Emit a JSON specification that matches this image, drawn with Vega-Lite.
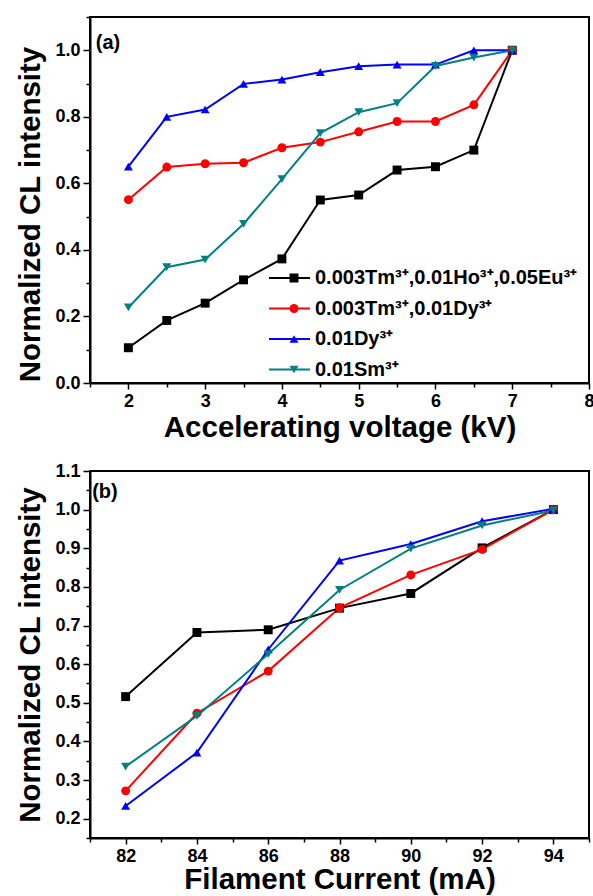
{
  "$schema": "https://vega.github.io/schema/vega-lite/v6.json",
  "autosize": {"type": "pad"},
  "padding": {"left": 14, "top": 15, "right": 5, "bottom": 0},
  "bounds": "flush",
  "spacing": 88,
  "background": "white",
  "config": {
    "font": "Liberation Sans",
    "view": {"stroke": "black", "strokeWidth": 2},
    "axis": {
      "domainColor": "black", "domainWidth": 2,
      "tickColor": "black", "tickWidth": 1.5, "tickSize": 6,
      "labelFont": "Liberation Sans", "labelFontWeight": "bold", "labelFontSize": 18, "labelColor": "black",
      "titleFont": "Liberation Sans", "titleFontWeight": "bold", "titleFontSize": 29.5, "titleColor": "black",
      "grid": false, "labelOverlap": false, "labelFlush": false
    },
    "legend": {"labelFont": "Liberation Sans", "labelFontWeight": "bold", "labelFontSize": 20, "labelColor": "black", "labelLimit": 400, "padding": 0}
  },
  "datasets": {
    "a": [
      {"s": "0.003Tm³⁺,0.01Ho³⁺,0.05Eu³⁺", "x": 2, "y": 0.106},
      {"s": "0.003Tm³⁺,0.01Ho³⁺,0.05Eu³⁺", "x": 2.5, "y": 0.188},
      {"s": "0.003Tm³⁺,0.01Ho³⁺,0.05Eu³⁺", "x": 3, "y": 0.240},
      {"s": "0.003Tm³⁺,0.01Ho³⁺,0.05Eu³⁺", "x": 3.5, "y": 0.310},
      {"s": "0.003Tm³⁺,0.01Ho³⁺,0.05Eu³⁺", "x": 4, "y": 0.373},
      {"s": "0.003Tm³⁺,0.01Ho³⁺,0.05Eu³⁺", "x": 4.5, "y": 0.550},
      {"s": "0.003Tm³⁺,0.01Ho³⁺,0.05Eu³⁺", "x": 5, "y": 0.565},
      {"s": "0.003Tm³⁺,0.01Ho³⁺,0.05Eu³⁺", "x": 5.5, "y": 0.640},
      {"s": "0.003Tm³⁺,0.01Ho³⁺,0.05Eu³⁺", "x": 6, "y": 0.650},
      {"s": "0.003Tm³⁺,0.01Ho³⁺,0.05Eu³⁺", "x": 6.5, "y": 0.700},
      {"s": "0.003Tm³⁺,0.01Ho³⁺,0.05Eu³⁺", "x": 7, "y": 1.0},
      {"s": "0.003Tm³⁺,0.01Dy³⁺", "x": 2, "y": 0.551},
      {"s": "0.003Tm³⁺,0.01Dy³⁺", "x": 2.5, "y": 0.649},
      {"s": "0.003Tm³⁺,0.01Dy³⁺", "x": 3, "y": 0.659},
      {"s": "0.003Tm³⁺,0.01Dy³⁺", "x": 3.5, "y": 0.662},
      {"s": "0.003Tm³⁺,0.01Dy³⁺", "x": 4, "y": 0.707},
      {"s": "0.003Tm³⁺,0.01Dy³⁺", "x": 4.5, "y": 0.724},
      {"s": "0.003Tm³⁺,0.01Dy³⁺", "x": 5, "y": 0.755},
      {"s": "0.003Tm³⁺,0.01Dy³⁺", "x": 5.5, "y": 0.786},
      {"s": "0.003Tm³⁺,0.01Dy³⁺", "x": 6, "y": 0.786},
      {"s": "0.003Tm³⁺,0.01Dy³⁺", "x": 6.5, "y": 0.836},
      {"s": "0.003Tm³⁺,0.01Dy³⁺", "x": 7, "y": 1.0},
      {"s": "0.01Dy³⁺", "x": 2, "y": 0.650},
      {"s": "0.01Dy³⁺", "x": 2.5, "y": 0.800},
      {"s": "0.01Dy³⁺", "x": 3, "y": 0.822},
      {"s": "0.01Dy³⁺", "x": 3.5, "y": 0.899},
      {"s": "0.01Dy³⁺", "x": 4, "y": 0.912},
      {"s": "0.01Dy³⁺", "x": 4.5, "y": 0.934},
      {"s": "0.01Dy³⁺", "x": 5, "y": 0.952},
      {"s": "0.01Dy³⁺", "x": 5.5, "y": 0.957},
      {"s": "0.01Dy³⁺", "x": 6, "y": 0.957},
      {"s": "0.01Dy³⁺", "x": 6.5, "y": 1.0},
      {"s": "0.01Dy³⁺", "x": 7, "y": 1.0},
      {"s": "0.01Sm³⁺", "x": 2, "y": 0.227},
      {"s": "0.01Sm³⁺", "x": 2.5, "y": 0.348},
      {"s": "0.01Sm³⁺", "x": 3, "y": 0.371},
      {"s": "0.01Sm³⁺", "x": 3.5, "y": 0.478},
      {"s": "0.01Sm³⁺", "x": 4, "y": 0.613},
      {"s": "0.01Sm³⁺", "x": 4.5, "y": 0.751},
      {"s": "0.01Sm³⁺", "x": 5, "y": 0.814},
      {"s": "0.01Sm³⁺", "x": 5.5, "y": 0.841},
      {"s": "0.01Sm³⁺", "x": 6, "y": 0.953},
      {"s": "0.01Sm³⁺", "x": 6.5, "y": 0.978},
      {"s": "0.01Sm³⁺", "x": 7, "y": 1.0}
    ],
    "b": [
      {"s": "0.003Tm³⁺,0.01Ho³⁺,0.05Eu³⁺", "x": 82, "y": 0.516},
      {"s": "0.003Tm³⁺,0.01Ho³⁺,0.05Eu³⁺", "x": 84, "y": 0.682},
      {"s": "0.003Tm³⁺,0.01Ho³⁺,0.05Eu³⁺", "x": 86, "y": 0.689},
      {"s": "0.003Tm³⁺,0.01Ho³⁺,0.05Eu³⁺", "x": 88, "y": 0.745},
      {"s": "0.003Tm³⁺,0.01Ho³⁺,0.05Eu³⁺", "x": 90, "y": 0.783},
      {"s": "0.003Tm³⁺,0.01Ho³⁺,0.05Eu³⁺", "x": 92, "y": 0.901},
      {"s": "0.003Tm³⁺,0.01Ho³⁺,0.05Eu³⁺", "x": 94, "y": 1.0},
      {"s": "0.003Tm³⁺,0.01Dy³⁺", "x": 82, "y": 0.272},
      {"s": "0.003Tm³⁺,0.01Dy³⁺", "x": 84, "y": 0.473},
      {"s": "0.003Tm³⁺,0.01Dy³⁺", "x": 86, "y": 0.582},
      {"s": "0.003Tm³⁺,0.01Dy³⁺", "x": 88, "y": 0.746},
      {"s": "0.003Tm³⁺,0.01Dy³⁺", "x": 90, "y": 0.831},
      {"s": "0.003Tm³⁺,0.01Dy³⁺", "x": 92, "y": 0.897},
      {"s": "0.003Tm³⁺,0.01Dy³⁺", "x": 94, "y": 1.0},
      {"s": "0.01Dy³⁺", "x": 82, "y": 0.233},
      {"s": "0.01Dy³⁺", "x": 84, "y": 0.371},
      {"s": "0.01Dy³⁺", "x": 86, "y": 0.638},
      {"s": "0.01Dy³⁺", "x": 88, "y": 0.868},
      {"s": "0.01Dy³⁺", "x": 90, "y": 0.911},
      {"s": "0.01Dy³⁺", "x": 92, "y": 0.970},
      {"s": "0.01Dy³⁺", "x": 94, "y": 1.002},
      {"s": "0.01Sm³⁺", "x": 82, "y": 0.335},
      {"s": "0.01Sm³⁺", "x": 84, "y": 0.466},
      {"s": "0.01Sm³⁺", "x": 86, "y": 0.626},
      {"s": "0.01Sm³⁺", "x": 88, "y": 0.792},
      {"s": "0.01Sm³⁺", "x": 90, "y": 0.899},
      {"s": "0.01Sm³⁺", "x": 92, "y": 0.959},
      {"s": "0.01Sm³⁺", "x": 94, "y": 0.998}
    ]
  },
  "vconcat": [
    {
      "width": 499,
      "height": 366,
      "resolve": {"axis": {"x": "independent", "y": "independent"}},
      "layer": [
        {
          "data": {"name": "a"},
          "mark": {"type": "line", "strokeWidth": 2},
          "encoding": {
            "x": {"field": "x", "type": "quantitative", "scale": {"domain": [1.5, 8], "nice": false, "zero": false},
              "axis": {"orient": "bottom", "title": "Accelerating voltage (kV)", "values": [2, 3, 4, 5, 6, 7, 8], "format": "d",
                "labelPadding": 3, "titlePadding": 3}},
            "y": {"field": "y", "type": "quantitative", "scale": {"domain": [0, 1.1], "nice": false},
              "axis": {"orient": "left", "title": "Normalized CL intensity", "values": [0, 0.2, 0.4, 0.6, 0.8, 1.0], "format": ".1f",
                "tickSize": 7, "labelPadding": 3, "titlePadding": 9, "titleY": 197}},
            "stroke": {"field": "s", "type": "nominal",
              "sort": ["0.003Tm³⁺,0.01Ho³⁺,0.05Eu³⁺", "0.003Tm³⁺,0.01Dy³⁺", "0.01Dy³⁺", "0.01Sm³⁺"],
              "scale": {"range": ["#000000", "#ff0000", "#0000ff", "#008080"]},
              "legend": {"orient": "none", "legendX": 178, "legendY": 249, "title": null, "symbolType": "stroke", "symbolSize": 1681, "symbolStrokeWidth": 2, "clipHeight": 24, "rowPadding": 6.5, "symbolOffset": 0, "padding": 0}}
          }
        },
        {
          "data": {"name": "a"},
          "mark": {"type": "point", "filled": true, "size": 80, "opacity": 1},
          "encoding": {
            "x": {"field": "x", "type": "quantitative",
              "axis": {"orient": "bottom", "title": null, "values": [1.5, 2.5, 3.5, 4.5, 5.5, 6.5, 7.5], "labels": false, "domain": false, "tickSize": 4}},
            "y": {"field": "y", "type": "quantitative",
              "axis": {"orient": "left", "title": null, "values": [0.1, 0.3, 0.5, 0.7, 0.9, 1.1], "labels": false, "domain": false, "tickSize": 4}},
            "color": {"field": "s", "type": "nominal",
              "scale": {"domain": ["0.003Tm³⁺,0.01Ho³⁺,0.05Eu³⁺", "0.003Tm³⁺,0.01Dy³⁺", "0.01Dy³⁺", "0.01Sm³⁺"], "range": ["#000000", "#ff0000", "#0000ff", "#008080"]},
              "legend": {"orient": "none", "legendX": 194, "legendY": 249, "title": null, "symbolSize": 80, "clipHeight": 24, "rowPadding": 6.5, "symbolOffset": 0, "padding": 0, "labelOpacity": 0, "symbolOpacity": 1}},
            "shape": {"field": "s", "type": "nominal",
              "scale": {"domain": ["0.003Tm³⁺,0.01Ho³⁺,0.05Eu³⁺", "0.003Tm³⁺,0.01Dy³⁺", "0.01Dy³⁺", "0.01Sm³⁺"], "range": ["square", "circle", "triangle-up", "triangle-down"]},
              "legend": {"orient": "none", "legendX": 194, "legendY": 249, "title": null, "symbolSize": 80, "clipHeight": 24, "rowPadding": 6.5, "symbolOffset": 0, "padding": 0, "labelOpacity": 0, "symbolOpacity": 1}}
          }
        },
        {
          "data": {"values": [{}]},
          "mark": {"type": "text", "text": "(a)", "align": "left", "baseline": "middle", "fontSize": 20, "fontWeight": "bold", "font": "Liberation Sans", "color": "black"},
          "encoding": {"x": {"datum": 1.575, "type": "quantitative", "axis": null}, "y": {"datum": 1.022, "type": "quantitative", "axis": null}}
        }
      ]
    },
    {
      "width": 499,
      "height": 367,
      "resolve": {"axis": {"x": "independent", "y": "independent"}},
      "layer": [
        {
          "data": {"name": "b"},
          "mark": {"type": "line", "strokeWidth": 2},
          "encoding": {
            "x": {"field": "x", "type": "quantitative", "scale": {"domain": [81, 95], "nice": false, "zero": false},
              "axis": {"orient": "bottom", "title": "Filament Current (mA)", "values": [82, 84, 86, 88, 90, 92, 94], "format": "d",
                "labelPadding": 3, "titlePadding": 0}},
            "y": {"field": "y", "type": "quantitative", "scale": {"domain": [0.15, 1.1], "nice": false, "zero": false},
              "axis": {"orient": "left", "title": "Normalized CL intensity", "values": [0.2, 0.3, 0.4, 0.5, 0.6, 0.7, 0.8, 0.9, 1.0, 1.1], "format": ".1f",
                "tickSize": 7, "labelPadding": 3, "titlePadding": 9}},
            "stroke": {"field": "s", "type": "nominal",
              "sort": ["0.003Tm³⁺,0.01Ho³⁺,0.05Eu³⁺", "0.003Tm³⁺,0.01Dy³⁺", "0.01Dy³⁺", "0.01Sm³⁺"],
              "scale": {"range": ["#000000", "#ff0000", "#0000ff", "#008080"]},
              "legend": {"orient": "none", "legendX": 170, "legendY": 226, "title": null, "symbolType": "stroke", "symbolSize": 1681, "symbolStrokeWidth": 2, "clipHeight": 24, "rowPadding": 6.5, "symbolOffset": 0, "padding": 0}}
          }
        },
        {
          "data": {"name": "b"},
          "mark": {"type": "point", "filled": true, "size": 80, "opacity": 1},
          "encoding": {
            "x": {"field": "x", "type": "quantitative",
              "axis": {"orient": "bottom", "title": null, "values": [81, 83, 85, 87, 89, 91, 93, 95], "labels": false, "domain": false, "tickSize": 4}},
            "y": {"field": "y", "type": "quantitative",
              "axis": {"orient": "left", "title": null, "values": [0.15, 0.25, 0.35, 0.45, 0.55, 0.65, 0.75, 0.85, 0.95, 1.05], "labels": false, "domain": false, "tickSize": 4}},
            "color": {"field": "s", "type": "nominal",
              "scale": {"domain": ["0.003Tm³⁺,0.01Ho³⁺,0.05Eu³⁺", "0.003Tm³⁺,0.01Dy³⁺", "0.01Dy³⁺", "0.01Sm³⁺"], "range": ["#000000", "#ff0000", "#0000ff", "#008080"]},
              "legend": {"orient": "none", "legendX": 186, "legendY": 226, "title": null, "symbolSize": 80, "clipHeight": 24, "rowPadding": 6.5, "symbolOffset": 0, "padding": 0, "labelOpacity": 0, "symbolOpacity": 1}},
            "shape": {"field": "s", "type": "nominal",
              "scale": {"domain": ["0.003Tm³⁺,0.01Ho³⁺,0.05Eu³⁺", "0.003Tm³⁺,0.01Dy³⁺", "0.01Dy³⁺", "0.01Sm³⁺"], "range": ["square", "circle", "triangle-up", "triangle-down"]},
              "legend": {"orient": "none", "legendX": 186, "legendY": 226, "title": null, "symbolSize": 80, "clipHeight": 24, "rowPadding": 6.5, "symbolOffset": 0, "padding": 0, "labelOpacity": 0, "symbolOpacity": 1}}
          }
        },
        {
          "data": {"values": [{}]},
          "mark": {"type": "text", "text": "(b)", "align": "left", "baseline": "middle", "fontSize": 20, "fontWeight": "bold", "font": "Liberation Sans", "color": "black"},
          "encoding": {"x": {"datum": 81.06, "type": "quantitative", "axis": null}, "y": {"datum": 1.045, "type": "quantitative", "axis": null}}
        }
      ]
    }
  ]
}
